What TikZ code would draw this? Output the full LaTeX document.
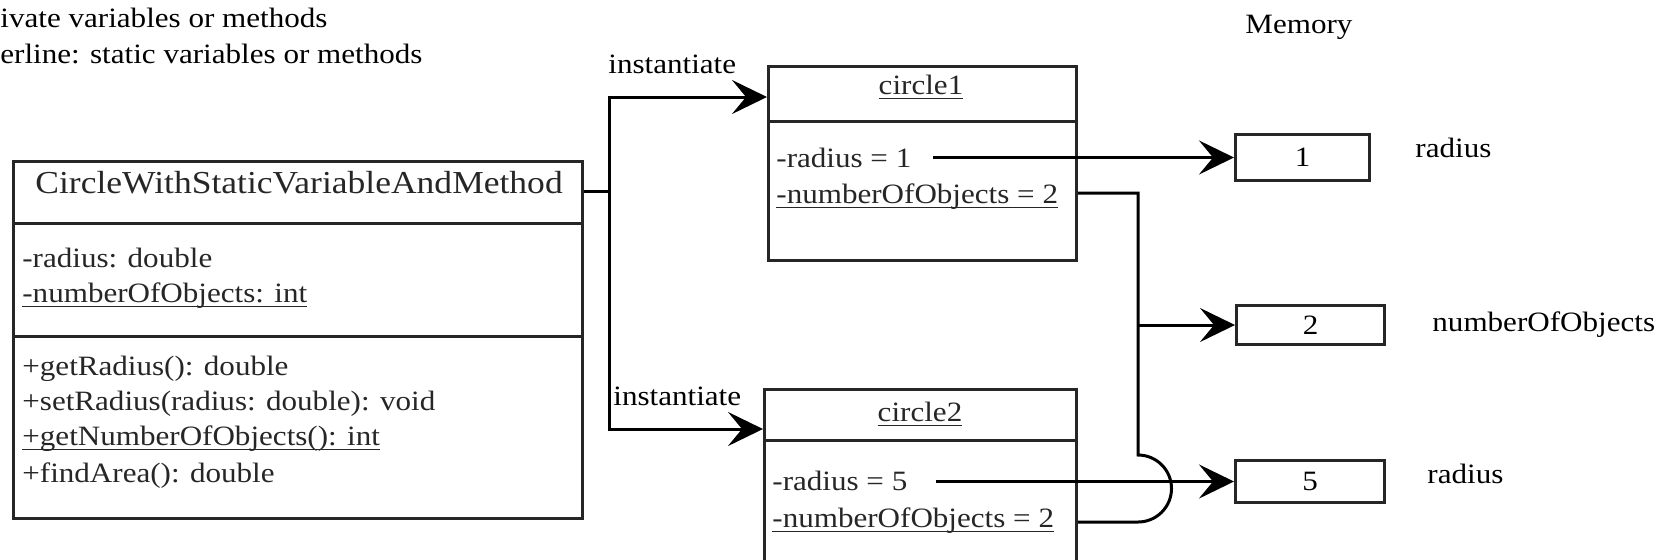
\documentclass[tikz,border=0pt]{standalone}
\usepackage{fontspec}
\setmainfont{Liberation Serif}[FakeStretch=1.11]
\usetikzlibrary{arrows.meta}
\newcommand{\ulx}[1]{\setbox0\hbox{#1}\rlap{\rule[-2.6pt]{\wd0}{0.8pt}}\box0}
\begin{document}
\begin{tikzpicture}[x=0.5pt,y=-0.5pt,
  box/.style={draw=black!85, line width=1.5pt, rectangle, inner sep=0pt, anchor=north west,
    font=\fontsize{14pt}{17pt}\selectfont, text=black!85},
  txt/.style={inner sep=0pt, anchor=base west, font=\fontsize{14pt}{17pt}\selectfont, text=black!85},
  lbl/.style={inner sep=0pt, anchor=base west, font=\fontsize{14pt}{17pt}\selectfont, text=black},
  sep/.style={draw=black!85, line width=1.5pt},
  conn/.style={line width=1.5pt, black},
  arr/.style={conn, -{Stealth[length=17.5pt,width=17pt,inset=7pt]}},
]
\useasboundingbox (0,0) rectangle (1673,559);
\clip (0,0) rectangle (1673,559);

% legend (cut off at left)
\node[lbl] (lg1) at (0,27) {ivate variables or methods};
\node[lbl] (lg2) at (0,63) {erline: static variables or methods};

% class box
\node[box, minimum width=284.5pt, minimum height=178.5pt] (cls) at (12,160) {};
\draw[sep] (12,223) -- (581,223);
\draw[sep] (12,336) -- (581,336);
\node[txt, anchor=base, font=\fontsize{16pt}{19pt}\selectfont] (clst) at (299,193) {CircleWithStaticVariableAndMethod};
\node[txt] (a1) at (22,267) {-radius: double};
\node[txt] (a2) at (22,302) {\ulx{-numberOfObjects: int}};
\node[txt] (o1) at (22,375) {+getRadius(): double};
\node[txt] (o2) at (22,410) {+setRadius(radius: double): void};
\node[txt] (o3) at (22,445) {\ulx{+getNumberOfObjects(): int}};
\node[txt] (o4) at (22,482) {+findArea(): double};

% circle1
\node[box, minimum width=154pt, minimum height=97pt] (c1) at (767,65) {};
\draw[sep] (767,121) -- (1075,121);
\node[txt, anchor=base] (c1t) at (921,94) {\ulx{circle1}};
\node[txt] (c1r) at (776,167) {-radius = 1};
\node[txt] (c1n) at (776,203) {\ulx{-numberOfObjects = 2}};

% circle2
\node[box, minimum width=156pt, minimum height=96pt] (c2) at (763,388) {};
\draw[sep] (763,440) -- (1075,440);
\node[txt, anchor=base] (c2t) at (920,421) {\ulx{circle2}};
\node[txt] (c2r) at (772,490) {-radius = 5};
\node[txt] (c2n) at (772,527) {\ulx{-numberOfObjects = 2}};

% memory
\node[lbl] (memt) at (1245,33) {Memory};
\node[box, text=black, minimum width=67pt, minimum height=23pt] (m1) at (1234,133) {1};
\node[box, text=black, minimum width=74pt, minimum height=19.5pt] (m2) at (1235,304) {2};
\node[box, text=black, minimum width=74.5pt, minimum height=21pt] (m3) at (1234,459) {5};
\node[lbl] (m1l) at (1415,157) {radius};
\node[lbl] (m2l) at (1432,331) {numberOfObjects};
\node[lbl] (m3l) at (1427,483) {radius};

% instantiate connectors
\node[lbl] (i1) at (608,73) {instantiate};
\node[lbl] (i2) at (613,405) {instantiate};
\draw[conn] (cls.east |- 0,191) -- (609,191);
\draw[arr] (609,429) -- (609,97) -- (c1.west |- 0,97);
\draw[arr] (609,97) -- (609,429) -- (c2.west |- 0,429);

% value references
\draw[arr] (933,0 |- m1.west) -- (m1.west);
\draw[arr] (936,0 |- m3.west) -- (m3.west);
\draw[conn] (c1.east |- 0,193) -- (1138,193) -- (1138,455)
  arc[start angle=-90, end angle=90, radius=33.5] -- (c2.east |- 0,522);
\draw[arr] (1138,0 |- m2.west) -- (m2.west);
\end{tikzpicture}
\end{document}
